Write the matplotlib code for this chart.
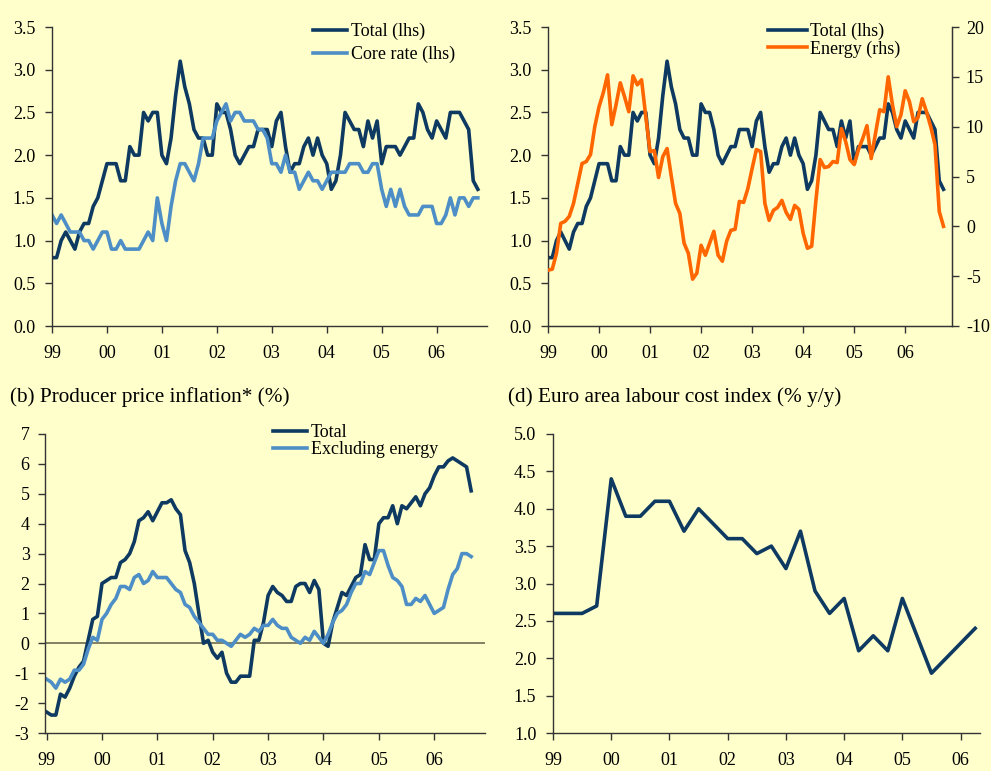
import matplotlib.pyplot as plt
import numpy as np
from matplotlib.ticker import FormatStrFormatter

plt.rcParams['font.family'] = ['Liberation Serif', 'DejaVu Serif']
plt.rcParams['font.size'] = 13
plt.rcParams['axes.unicode_minus'] = False

# --- data (monthly from Jan 1999, y/y %) ---
hicp_total = [0.8, 0.8, 1.0, 1.1, 1.0, 0.9, 1.1, 1.2, 1.2, 1.4, 1.5, 1.7,
              1.9, 1.9, 1.9, 1.7, 1.7, 2.1, 2.0, 2.0, 2.5, 2.4, 2.5, 2.5,
              2.0, 1.9, 2.2, 2.7, 3.1, 2.8, 2.6, 2.3, 2.2, 2.2, 2.0, 2.0,
              2.6, 2.5, 2.5, 2.3, 2.0, 1.9, 2.0, 2.1, 2.1, 2.3, 2.3, 2.3,
              2.1, 2.4, 2.5, 2.1, 1.8, 1.9, 1.9, 2.1, 2.2, 2.0, 2.2, 2.0,
              1.9, 1.6, 1.7, 2.0, 2.5, 2.4, 2.3, 2.3, 2.1, 2.4, 2.2, 2.4,
              1.9, 2.1, 2.1, 2.1, 2.0, 2.1, 2.2, 2.2, 2.6, 2.5, 2.3, 2.2,
              2.4, 2.3, 2.2, 2.5, 2.5, 2.5, 2.4, 2.3, 1.7, 1.6]
hicp_core = [1.3, 1.2, 1.3, 1.2, 1.1, 1.1, 1.1, 1.0, 1.0, 0.9, 1.0, 1.1,
             1.1, 0.9, 0.9, 1.0, 0.9, 0.9, 0.9, 0.9, 1.0, 1.1, 1.0, 1.5,
             1.2, 1.0, 1.4, 1.7, 1.9, 1.9, 1.8, 1.7, 1.9, 2.2, 2.2, 2.2,
             2.4, 2.5, 2.6, 2.4, 2.5, 2.5, 2.4, 2.4, 2.4, 2.3, 2.3, 2.2,
             1.9, 1.9, 1.8, 2.0, 1.8, 1.8, 1.6, 1.7, 1.8, 1.7, 1.7, 1.6,
             1.7, 1.8, 1.8, 1.8, 1.8, 1.9, 1.9, 1.9, 1.8, 1.8, 1.9, 1.9,
             1.6, 1.4, 1.6, 1.4, 1.6, 1.4, 1.3, 1.3, 1.3, 1.4, 1.4, 1.4,
             1.2, 1.2, 1.3, 1.5, 1.3, 1.5, 1.5, 1.4, 1.5, 1.5]
hicp_energy = [-4.4, -4.3, -2.7, 0.3, 0.5, 1.0, 2.3, 4.3, 6.3, 6.5, 7.2, 10.0,
               12.0, 13.4, 15.2, 10.2, 12.2, 14.4, 13.0, 11.5, 15.1, 14.2, 14.7, 11.0,
               7.5, 7.6, 4.9, 7.0, 7.8, 5.0, 2.3, 1.3, -1.7, -2.7, -5.3, -4.7,
               -1.9, -2.9, -1.7, -0.5, -2.9, -3.5, -1.5, -0.4, -0.3, 2.5, 2.4, 3.8,
               5.8, 7.7, 7.5, 2.3, 0.6, 1.6, 1.9, 2.6, 1.4, 0.7, 2.1, 1.7,
               -0.7, -2.2, -2.0, 2.6, 6.7, 5.9, 6.0, 6.5, 6.4, 9.8, 8.5, 6.7,
               6.2, 7.7, 8.8, 10.1, 6.8, 9.3, 11.7, 11.5, 15.0, 12.2, 10.0, 11.2,
               13.6, 12.5, 10.5, 10.9, 12.8, 11.5, 10.0, 8.2, 1.5, 0.0]
ppi_total = [-2.3, -2.4, -2.4, -1.7, -1.8, -1.5, -1.1, -0.8, -0.6, 0.1, 0.8, 0.9,
             2.0, 2.1, 2.2, 2.2, 2.7, 2.8, 3.0, 3.4, 4.1, 4.2, 4.4, 4.1,
             4.4, 4.7, 4.7, 4.8, 4.5, 4.3, 3.1, 2.7, 2.0, 1.0, 0.0, 0.1,
             -0.3, -0.5, -0.3, -1.0, -1.3, -1.3, -1.1, -1.1, -1.1, 0.1, 0.1, 0.7,
             1.6, 1.9, 1.7, 1.6, 1.4, 1.4, 1.9, 2.0, 2.0, 1.7, 2.1, 1.8,
             0.0, -0.1, 0.7, 1.2, 1.7, 1.6, 1.9, 2.2, 2.3, 3.3, 2.8, 2.8,
             4.0, 4.2, 4.2, 4.6, 4.0, 4.6, 4.5, 4.7, 4.9, 4.6, 5.0, 5.2,
             5.6, 5.9, 5.9, 6.1, 6.2, 6.1, 6.0, 5.9, 5.1]
ppi_ex_energy = [-1.2, -1.3, -1.5, -1.2, -1.3, -1.2, -0.9, -0.9, -0.7, -0.2, 0.2, 0.1,
                 0.8, 1.0, 1.3, 1.5, 1.9, 1.9, 1.8, 2.2, 2.3, 2.0, 2.1, 2.4,
                 2.2, 2.2, 2.2, 2.0, 1.8, 1.7, 1.3, 1.2, 0.9, 0.7, 0.5, 0.3,
                 0.3, 0.1, 0.1, 0.0, -0.1, 0.1, 0.3, 0.2, 0.3, 0.5, 0.4, 0.6,
                 0.6, 0.8, 0.6, 0.5, 0.5, 0.2, 0.1, 0.0, 0.2, 0.1, 0.4, 0.2,
                 0.0, 0.3, 0.7, 1.0, 1.1, 1.3, 1.7, 2.0, 2.0, 2.4, 2.3, 2.7,
                 3.1, 3.1, 2.6, 2.2, 2.1, 1.9, 1.3, 1.3, 1.5, 1.4, 1.6, 1.3,
                 1.0, 1.1, 1.2, 1.8, 2.3, 2.5, 3.0, 3.0, 2.9]
# quarterly from 1999Q1
labour_cost = [2.6, 2.6, 2.6, 2.7, 4.4, 3.9, 3.9, 4.1, 4.1, 3.7, 4.0, 3.8,
               3.6, 3.6, 3.4, 3.5, 3.2, 3.7, 2.9, 2.6, 2.8, 2.1, 2.3, 2.1,
               2.8, 2.3, 1.8, 2.0, 2.2, 2.4]
year_labels = ['99', '00', '01', '02', '03', '04', '05', '06']

BG = '#FFFFCC'
NAVY = '#0E3A62'
LIGHT = '#4D8EC6'
ORANGE = '#FF6600'
AXC = '#333333'
LEG_FS = 13

fig = plt.figure(figsize=(9.91, 7.71), dpi=100, facecolor=BG)


def add_ax(l, t, r, b):
    return fig.add_axes([l / 991, 1 - b / 771, (r - l) / 991, (b - t) / 771])


def style(ax, right=False, ypad=7):
    ax.set_facecolor(BG)
    ax.spines['top'].set_visible(False)
    ax.spines['right'].set_visible(right)
    for s in ax.spines.values():
        s.set_color(AXC)
        s.set_linewidth(1)
    ax.tick_params(direction='out', length=5, width=1, color=AXC, labelsize=13)
    ax.tick_params(axis='x', pad=9)
    ax.tick_params(axis='y', pad=ypad)
    ax.set_xticks(np.arange(0, 96, 12))
    ax.set_xticklabels(year_labels)


def legend(ax, handles, labels, x, y, hl, ls):
    ax.legend(handles, labels, loc='upper left',
              bbox_to_anchor=(x / 991, 1 - y / 771), bbox_transform=fig.transFigure,
              frameon=False, borderpad=0, borderaxespad=0, handlelength=hl,
              handletextpad=0.2, labelspacing=ls, fontsize=LEG_FS)


lw = 2.6
m = np.arange(len(hicp_total))

# (a) HICP total and core
ax1 = add_ax(52, 27, 487, 326)
style(ax1)
l1, = ax1.plot(m, hicp_total, color=NAVY, lw=lw)
l2, = ax1.plot(m, hicp_core, color=LIGHT, lw=lw)
ax1.set_ylim(0, 3.5)
ax1.set_yticks(np.arange(0, 3.51, 0.5))
ax1.yaxis.set_major_formatter(FormatStrFormatter('%.1f'))
ax1.set_xlim(0, 95)
legend(ax1, [l1, l2], ['Total (lhs)', 'Core rate (lhs)'], 313, 23, 1.9, 0.3)

# (c) HICP total and energy
ax3 = add_ax(548, 27, 952, 326)
style(ax3, right=True)
l3, = ax3.plot(m, hicp_total, color=NAVY, lw=lw)
ax3.set_ylim(0, 3.5)
ax3.set_yticks(np.arange(0, 3.51, 0.5))
ax3.yaxis.set_major_formatter(FormatStrFormatter('%.1f'))
ax3.set_xlim(0, 95)
ax3b = ax3.twinx()
ax3b.spines['top'].set_visible(False)
ax3b.spines['left'].set_visible(False)
for s in ax3b.spines.values():
    s.set_color(AXC)
l4, = ax3b.plot(m, hicp_energy, color=ORANGE, lw=lw)
ax3b.set_ylim(-10, 20)
ax3b.set_yticks(np.arange(-10, 21, 5))
ax3b.tick_params(direction='out', length=5, width=1, color=AXC, labelsize=13, pad=5)
legend(ax3b, [l3, l4], ['Total (lhs)', 'Energy (rhs)'], 768, 23, 2.15, 0.0)

# (b) producer prices
mp = np.arange(len(ppi_total))
ax2 = add_ax(45, 434, 485, 733)
style(ax2, ypad=6)
ax2.axhline(0, color='#77775A', lw=1.3, zorder=1)
l5, = ax2.plot(mp, ppi_total, color=NAVY, lw=lw)
l6, = ax2.plot(mp, ppi_ex_energy, color=LIGHT, lw=lw)
ax2.set_ylim(-3, 7)
ax2.set_yticks(np.arange(-3, 8, 1))
ax2.set_xlim(-0.35, 95)
legend(ax2, [l5, l6], ['Total', 'Excluding energy'], 273, 424, 1.9, 0.02)
fig.text(10 / 991, 1 - 397 / 771, '(b) Producer price inflation* (%)',
         ha='left', va='center', fontsize=15.3)

# (d) labour cost index
q = np.arange(len(labour_cost)) * 3
ax4 = add_ax(553, 434, 980, 733)
style(ax4)
ax4.plot(q, labour_cost, color=NAVY, lw=lw)
ax4.set_ylim(1.0, 5.0)
ax4.set_yticks(np.arange(1.0, 5.01, 0.5))
ax4.yaxis.set_major_formatter(FormatStrFormatter('%.1f'))
ax4.set_xlim(0, 88)
fig.text(508 / 991, 1 - 397 / 771, '(d) Euro area labour cost index (% y/y)',
         ha='left', va='center', fontsize=15.3)

fig.savefig('out.png', dpi=100, facecolor=BG)
plt.close()
